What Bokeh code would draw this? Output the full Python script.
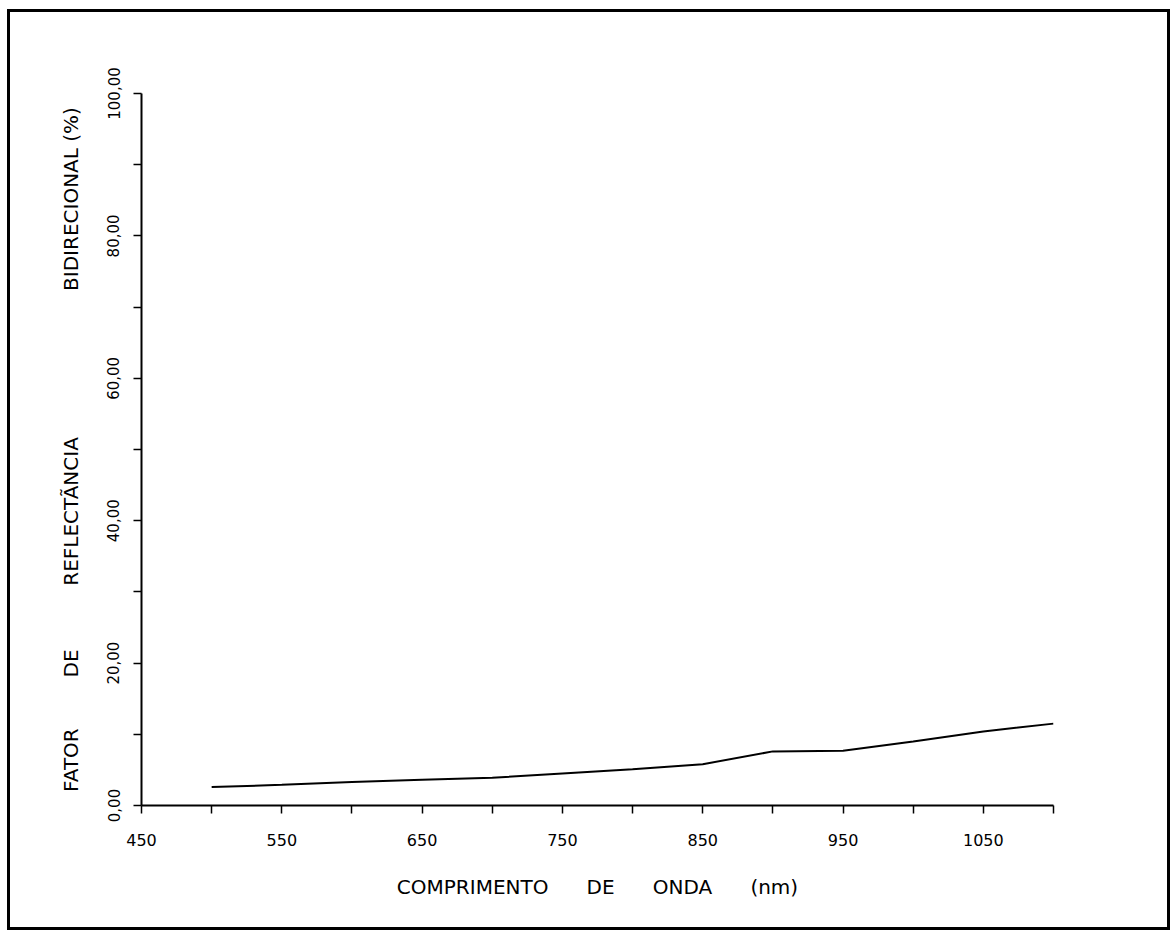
from bokeh.plotting import figure
from bokeh.models import FixedTicker, Range1d
from bokeh.embed import file_html
from bokeh.resources import INLINE

# Data (wavelength nm, bidirectional reflectance factor %)
wavelength = [500, 550, 600, 650, 700, 750, 800, 850, 900, 950, 1000, 1050, 1100]
reflectance = [2.6, 2.9, 3.3, 3.6, 3.9, 4.5, 5.1, 5.8, 7.6, 7.7, 9.0, 10.4, 11.5]

x_major = [450, 550, 650, 750, 850, 950, 1050]
x_minor = [500, 600, 700, 800, 900, 1000, 1100]
y_major = [0, 20, 40, 60, 80, 100]
y_minor = [10, 30, 50, 70, 90]
y_tick_text = ["0,00", "20,00", "40,00", "60,00", "80,00", "100,00"]

NB = "\u00a0"
y_title = ("FATOR" + NB * 8 + "DE" + NB * 10 + "REFLECTÃNCIA" + NB * 23
           + "BIDIRECIONAL" + NB + "(%)")
x_title = "COMPRIMENTO" + NB * 6 + "DE" + NB * 6 + "ONDA" + NB * 6 + "(nm)"

FONT = "DejaVu Sans"

p = figure(width=1163, height=921, output_backend="svg", toolbar_location=None,
           x_range=Range1d(450, 1100), y_range=Range1d(0, 100),
           min_border_left=131, min_border_right=120, min_border_top=81,
           min_border_bottom=128)
p.styles = {"border": "3px solid black", "box-sizing": "border-box",
            "margin-left": "7px", "margin-top": "9px"}
p.outline_line_color = None
p.grid.visible = False
p.background_fill_color = "white"
p.border_fill_color = "white"

p.line(wavelength, reflectance, line_color="black", line_width=2)

xa = p.xaxis[0]
xa.ticker = FixedTicker(ticks=x_major, minor_ticks=x_minor)
xa.axis_line_width = 2
xa.major_tick_out = 8
xa.major_tick_in = 0
xa.minor_tick_out = 8
xa.minor_tick_in = 0
xa.major_tick_line_width = 1.5
xa.minor_tick_line_width = 1.5
xa.major_label_text_font = FONT
xa.major_label_text_font_size = "16px"
xa.major_label_text_color = "black"
xa.major_label_standoff = 20
xa.axis_label = x_title
xa.axis_label_text_font = FONT
xa.axis_label_text_font_style = "normal"
xa.axis_label_text_font_size = "20px"
xa.axis_label_text_color = "black"
xa.axis_label_standoff = 26

ya = p.yaxis[0]
ya.ticker = FixedTicker(ticks=y_major, minor_ticks=y_minor)
ya.major_label_overrides = {v: t for v, t in zip(y_major, y_tick_text)}
ya.major_label_orientation = "vertical"
ya.axis_line_width = 2
ya.major_tick_out = 8
ya.major_tick_in = 0
ya.minor_tick_out = 8
ya.minor_tick_in = 0
ya.major_tick_line_width = 1.5
ya.minor_tick_line_width = 1.5
ya.major_label_text_font = FONT
ya.major_label_text_font_size = "15px"
ya.major_label_text_color = "black"
ya.major_label_standoff = 14
ya.axis_label = y_title
ya.axis_label_text_font = FONT
ya.axis_label_text_font_style = "normal"
ya.axis_label_text_font_size = "20px"
ya.axis_label_text_color = "black"
ya.axis_label_standoff = 22

open("out.html", "w").write(file_html(p, INLINE))
